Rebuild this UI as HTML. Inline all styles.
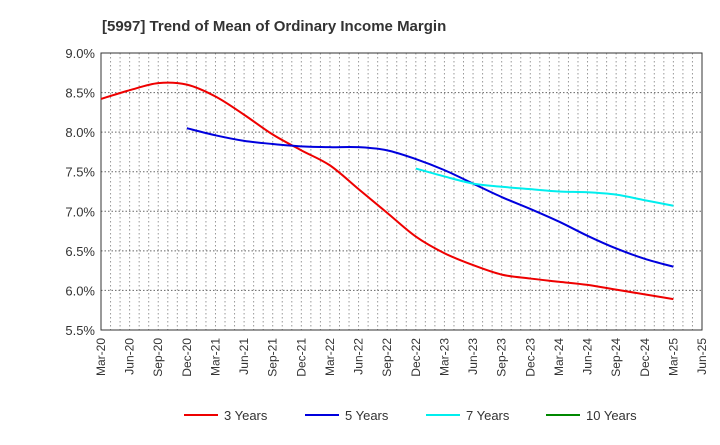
<!DOCTYPE html>
<html><head><meta charset="utf-8"><style>
body{margin:0;background:#fff;font-family:"Liberation Sans",Arial,sans-serif;}
svg text{font-family:"Liberation Sans",Arial,sans-serif;}
</style></head><body>
<svg id="chart" width="720" height="440" xmlns="http://www.w3.org/2000/svg">
<text x="102" y="31" font-size="15" font-weight="bold" fill="#333">[5997]  Trend of Mean of Ordinary Income Margin</text>
<g id="grid"></g>
<g id="axes"></g>
<g id="series"></g>
<g id="legend"></g>
</svg>
<script>
const xLabels=["Mar-20","Jun-20","Sep-20","Dec-20","Mar-21","Jun-21","Sep-21","Dec-21","Mar-22","Jun-22","Sep-22","Dec-22","Mar-23","Jun-23","Sep-23","Dec-23","Mar-24","Jun-24","Sep-24","Dec-24","Mar-25","Jun-25"];
const yTicks=[5.5,6.0,6.5,7.0,7.5,8.0,8.5,9.0];
const s3=[8.42,8.53,8.62,8.60,8.45,8.22,7.97,7.77,7.58,7.28,6.98,6.68,6.47,6.32,6.20,6.15,6.11,6.07,6.01,5.95,5.89];
const s3Start=0;
const s5=[8.05,7.96,7.89,7.85,7.82,7.81,7.81,7.77,7.66,7.52,7.35,7.18,7.03,6.87,6.69,6.53,6.40,6.30];
const s5Start=3;
const s7=[7.54,7.44,7.35,7.31,7.28,7.25,7.24,7.21,7.14,7.07];
const s7Start=11;
const s10=[];
const s10Start=0;
const L=101,R=702,T=53,B=330,ymin=5.5,ymax=9.0;
const nQ=xLabels.length-1;
const xf=i=>L+(R-L)*i/nQ;
const yf=v=>B-(v-ymin)/(ymax-ymin)*(B-T);
const NS="http://www.w3.org/2000/svg";
function mk(tag,attrs,parent){const e=document.createElementNS(NS,tag);for(const k in attrs)e.setAttribute(k,attrs[k]);parent.appendChild(e);return e;}
const grid=document.getElementById('grid'),axes=document.getElementById('axes'),ser=document.getElementById('series'),leg=document.getElementById('legend');
for(let m=1;m<nQ*3;m++){const x=xf(m/3);const l=mk('line',{x1:x,x2:x,y1:T,y2:B,stroke:'#999','stroke-dasharray':'1.5,2.5','stroke-width':1},grid);

}
yTicks.forEach(v=>{const y=yf(v);const l=mk('line',{x1:L,x2:R,y1:y,y2:y,stroke:'#666','stroke-dasharray':'1.5,2','stroke-width':1},grid);


const t=mk('text',{x:L-6,y:y+5,'text-anchor':'end','font-size':13,fill:'#333'},axes);t.textContent=v.toFixed(1)+'%';

});
const fr=mk('rect',{x:L,y:T,width:R-L,height:B-T,fill:'none',stroke:'#333','stroke-width':1},axes);


xLabels.forEach((s,i)=>{const x=xf(i);const t=mk('text',{x:x+4,y:B+8,'text-anchor':'end','font-size':12,fill:'#333',transform:`rotate(-90 ${x+4} ${B+8})`},axes);t.textContent=s;

});
function path(vals,start){const p=vals.map((v,i)=>[xf(start+i),yf(v)]);if(p.length<2)return'';let d=`M${p[0][0]},${p[0][1]}`;
for(let i=0;i<p.length-1;i++){const p0=p[i-1]||p[i],p1=p[i],p2=p[i+1],p3=p[i+2]||p2;
d+=` C${p1[0]+(p2[0]-p0[0])/6},${p1[1]+(p2[1]-p0[1])/6} ${p2[0]-(p3[0]-p1[0])/6},${p2[1]-(p3[1]-p1[1])/6} ${p2[0]},${p2[1]}`;}return d;}
const defs=[[s3,s3Start,'#ee0000','3 Years','line-3-years'],[s5,s5Start,'#0000dd','5 Years','line-5-years'],[s7,s7Start,'#00eeee','7 Years','line-7-years'],[s10,s10Start,'#008800','10 Years','line-10-years']];
defs.forEach(([v,st,c,lab,nm],k)=>{if(v.length>1){const p=mk('path',{d:path(v,st),fill:'none',stroke:c,'stroke-width':2},ser);

}
const lx=[184,305,426,546][k];
const g=mk('g',{},leg);


mk('line',{x1:lx,x2:lx+34,y1:415,y2:415,stroke:c,'stroke-width':2},g);
const t=mk('text',{x:lx+40,y:420,'font-size':13,fill:'#333'},g);t.textContent=lab;});
</script>
</body></html>
